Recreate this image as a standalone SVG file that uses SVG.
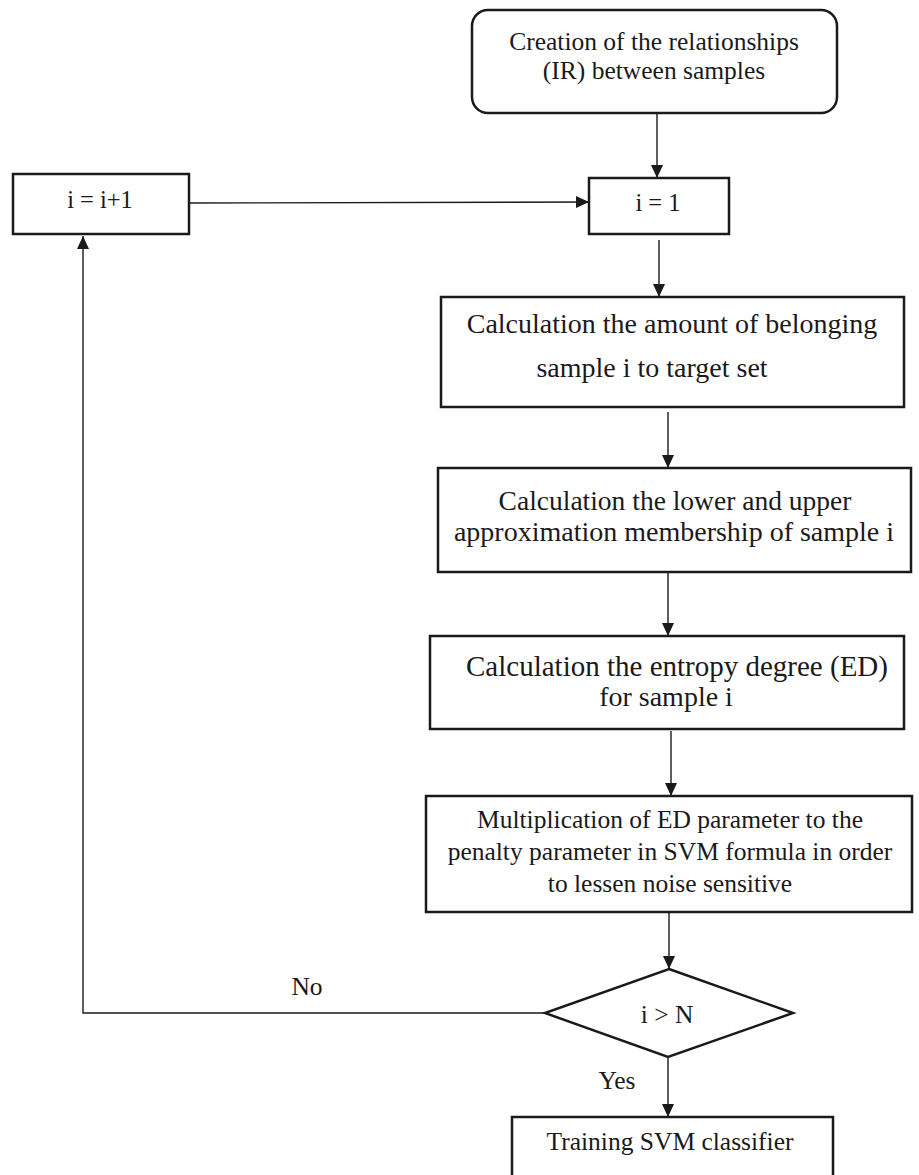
<svg xmlns="http://www.w3.org/2000/svg" width="919" height="1175" viewBox="0 0 919 1175">
<style>
.box{fill:#fff;stroke:#1a1a1a;stroke-width:2.5}
.t{font-family:"Liberation Serif","Times New Roman",serif;fill:#1a1a1a;text-anchor:middle}
.c{fill:none;stroke:#1a1a1a;stroke-width:1.4}
</style>
<defs>
<marker id="ah" markerWidth="13" markerHeight="12" refX="13" refY="6" orient="auto" markerUnits="userSpaceOnUse">
<path d="M0,0 L13,6 L0,12 Z" fill="#1a1a1a"/>
</marker>
</defs>
<rect width="919" height="1175" fill="#fff"/>
<g id="connectors">
<line class="c" x1="657" y1="113" x2="657" y2="178" marker-end="url(#ah)"/>
<line class="c" x1="189" y1="203" x2="589" y2="202" marker-end="url(#ah)"/>
<line class="c" x1="659" y1="240" x2="659" y2="297" marker-end="url(#ah)"/>
<line class="c" x1="668" y1="412" x2="668" y2="468" marker-end="url(#ah)"/>
<line class="c" x1="668" y1="572" x2="668" y2="636" marker-end="url(#ah)"/>
<line class="c" x1="671" y1="731" x2="671" y2="796" marker-end="url(#ah)"/>
<line class="c" x1="669" y1="912" x2="669" y2="969" marker-end="url(#ah)"/>
<line class="c" x1="668" y1="1058" x2="668" y2="1117" marker-end="url(#ah)"/>
<polyline class="c" points="545,1013 83,1013 83,236" marker-end="url(#ah)"/>
</g>
<g id="start">
<rect class="box" x="472" y="10" width="365" height="103" rx="16"/>
<text class="t" x="654" y="50" font-size="25.5">Creation of the relationships</text>
<text class="t" x="654" y="79" font-size="25.5">(IR) between samples</text>
</g>
<g id="init">
<rect class="box" x="589" y="178" width="140" height="56"/>
<text class="t" x="658" y="211" font-size="24.5">i = 1</text>
</g>
<g id="incr">
<rect class="box" x="13" y="174" width="176" height="60"/>
<text class="t" x="100" y="208" font-size="24.5">i = i+1</text>
</g>
<g id="belong">
<rect class="box" x="441" y="297" width="463" height="110"/>
<text class="t" x="672" y="333" font-size="28">Calculation the amount of belonging</text>
<text class="t" x="652" y="377" font-size="28">sample i to target set</text>
</g>
<g id="approx">
<rect class="box" x="438" y="468" width="473" height="104"/>
<text class="t" x="675" y="510" font-size="27.5">Calculation the lower and upper</text>
<text class="t" x="674" y="541" font-size="28">approximation membership of sample i</text>
</g>
<g id="entropy">
<rect class="box" x="430" y="636" width="474" height="93"/>
<text class="t" x="677" y="676" font-size="29">Calculation the entropy degree (ED)</text>
<text class="t" x="666" y="706" font-size="28">for sample i</text>
</g>
<g id="multiply">
<rect class="box" x="426" y="796" width="486" height="116"/>
<text class="t" x="670" y="828" font-size="25.5">Multiplication of ED parameter to the</text>
<text class="t" x="670" y="860" font-size="25.5">penalty parameter in SVM formula in order</text>
<text class="t" x="670" y="892" font-size="25.5">to lessen noise sensitive</text>
</g>
<g id="decision">
<polygon class="box" points="669,969 793,1013 668,1057 545,1013"/>
<text class="t" x="667" y="1023" font-size="25.5">i &gt; N</text>
</g>
<g id="labels">
<text class="t" x="307" y="995" font-size="25.5">No</text>
<text class="t" x="617" y="1089" font-size="25.5">Yes</text>
</g>
<g id="train">
<rect class="box" x="512" y="1117" width="321" height="70"/>
<text class="t" x="670" y="1150" font-size="25.5">Training SVM classifier</text>
</g>
</svg>
